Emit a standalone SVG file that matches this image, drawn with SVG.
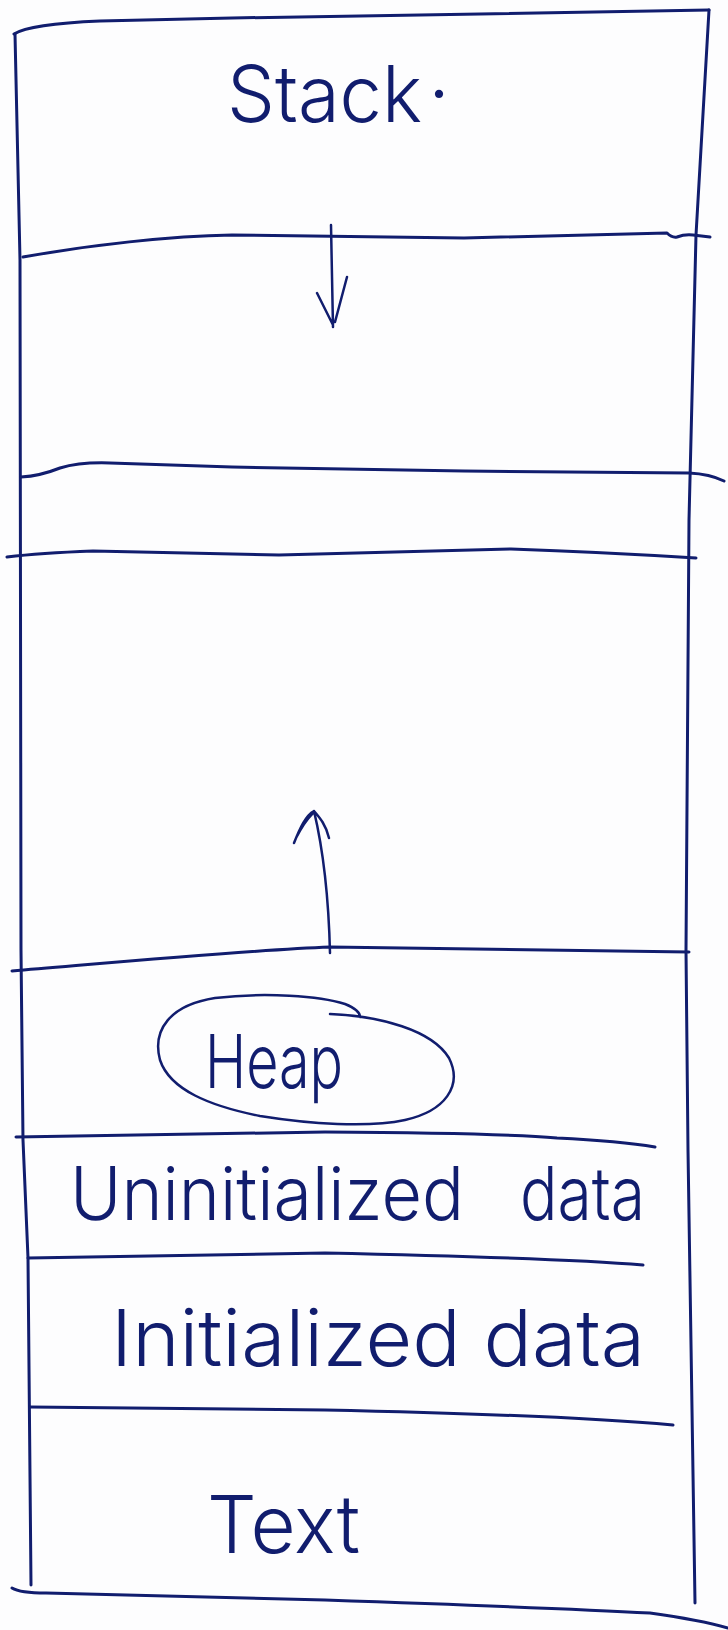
<svg xmlns="http://www.w3.org/2000/svg" width="728" height="1630" viewBox="0 0 728 1630">
<style>
.ink{fill:none;stroke:#111d6e;stroke-width:3;stroke-linecap:round;stroke-linejoin:round}
.pen{fill:none;stroke:#111d6e;stroke-width:2.5;stroke-linecap:round;stroke-linejoin:round}
.lbl{font-family:Inter,"Liberation Sans",sans-serif;font-weight:300;fill:#111d6e}
</style>
<rect x="0" y="0" width="728" height="1630" fill="#fdfdfe"/>
<g id="frame">
<path class="ink" d="M15,34 L20,260 L21,950 L23,1140 L28,1258 L31,1585"/>
<path class="ink" d="M709,10 L696,235 L689,520 L686,950 L688,1150 L695,1603"/>
<path class="ink" d="M14,34 Q30,24 100,21 L232,18 L420,15 L709,10"/>
<path class="ink" d="M23,257 C90,245 170,236 232,235 L464,238 L667,233 Q672,238 677,237 Q685,234 693,235 L710,237"/>
<path class="ink" d="M21,477 Q40,476 60,468 Q80,462 110,463 L232,467 L464,471 L689,473 Q710,474 724,481"/>
<path class="ink" d="M7,557 Q40,553 93,551 L279,555 L511,549 Q600,552 696,558"/>
<path class="ink" d="M12,971 C120,962 250,950 330,947 L689,952"/>
<path class="ink" d="M16,1137 L325,1132 Q500,1133 557,1138 Q620,1141 655,1147"/>
<path class="ink" d="M28,1258 L325,1253 Q560,1258 643,1265"/>
<path class="ink" d="M30,1407 L325,1410 Q560,1415 673,1425"/>
<path class="ink" d="M12,1588 Q20,1593 46,1593 L325,1600 Q560,1608 650,1613 Q700,1620 728,1628"/>
</g>
<g id="stack">
<text class="lbl" x="227" y="122" font-size="78"><tspan textLength="195" lengthAdjust="spacingAndGlyphs">Stack</tspan><tspan x="428" dy="-24">.</tspan></text>
</g>
<g id="heap">
<path class="pen" d="M330,1014 C380,1016 432,1030 449,1058 C463,1086 445,1111 405,1120 C368,1128 310,1124 260,1116 C210,1106 170,1090 160,1060 C152,1030 170,1005 215,998 C265,992 320,996 345,1004 C355,1008 360,1012 360,1017"/>
<text class="lbl" x="205" y="1088" font-size="74" textLength="138" lengthAdjust="spacingAndGlyphs">Heap</text>
</g>
<g id="uninitialized">
<text class="lbl" y="1220" font-size="74"><tspan x="70" textLength="394" lengthAdjust="spacingAndGlyphs">Uninitialized</tspan> <tspan x="520" textLength="125" lengthAdjust="spacingAndGlyphs">data</tspan></text>
</g>
<g id="initialized">
<text class="lbl" x="111" y="1366" font-size="78" textLength="534" lengthAdjust="spacingAndGlyphs">Initialized data</text>
</g>
<g id="text-segment">
<text class="lbl" x="207" y="1553" font-size="80" textLength="153" lengthAdjust="spacingAndGlyphs">Text</text>
</g>
<g id="connectors">
<path class="pen" d="M331,225 L333,327 M317,293 L333,325 M347,277 L335,322"/>
<path class="pen" d="M330,953 Q328,870 314,811 M294,843 C300,828 306,815 314,811 C320,818 326,825 329,838 M296,838 C302,826 308,818 313,813"/>
</g>
</svg>
